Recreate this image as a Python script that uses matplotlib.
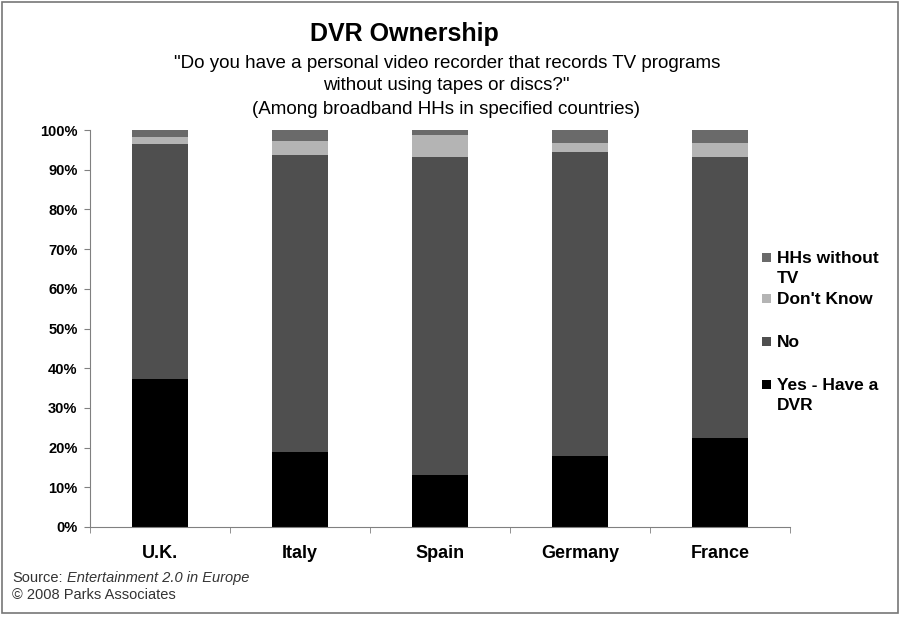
import matplotlib
matplotlib.use("Agg")
import matplotlib.pyplot as plt
import matplotlib.ticker as mticker
from matplotlib.patches import Rectangle
import numpy as np

plt.rcParams['font.family'] = ['Liberation Sans', 'DejaVu Sans']

countries = ["U.K.", "Italy", "Spain", "Germany", "France"]
yes_dvr = [37.3, 18.8, 13.1, 17.9, 22.4]
no_dvr = [59.2, 74.9, 80.2, 76.6, 70.8]
dont_know = [1.7, 3.5, 5.5, 2.2, 3.5]
no_tv = [1.8, 2.8, 1.2, 3.3, 3.3]

series = [
    ("Yes - Have a\nDVR", yes_dvr, "#000000"),
    ("No", no_dvr, "#4f4f4f"),
    ("Don't Know", dont_know, "#b4b4b4"),
    ("HHs without\nTV", no_tv, "#6a6a6a"),
]

W, H = 903, 617
fig = plt.figure(figsize=(W / 100, H / 100), dpi=100)
ax = fig.add_axes([90 / W, 1 - 527 / H, 700 / W, 397 / H])

x = np.arange(len(countries))
bottom = np.zeros(len(countries))
for label, vals, color in series:
    ax.bar(x, vals, width=0.4, bottom=bottom, color=color, linewidth=0)
    bottom += np.array(vals)

ax.set_xlim(-0.5, len(countries) - 0.5)
ax.set_ylim(0, 100)
ax.yaxis.set_major_locator(mticker.MultipleLocator(10))
ax.yaxis.set_major_formatter(mticker.FuncFormatter(lambda v, p: f"{v:.0f}%"))
ax.set_xticks(x)
ax.set_xticklabels(countries, fontsize=13, fontweight="bold")
ax.set_xticks(np.arange(len(countries) + 1) - 0.5, minor=True)
ax.tick_params(axis="x", which="major", length=0, pad=13)
ax.tick_params(axis="x", which="minor", length=4, color="#808080")
ax.tick_params(axis="y", length=4, color="#808080", labelsize=10.5, pad=5)
for t in ax.get_yticklabels():
    t.set_fontweight("bold")
for s in ["top", "right"]:
    ax.spines[s].set_visible(False)
for s in ["left", "bottom"]:
    ax.spines[s].set_color("#808080")

# titles
fig.text(404 / W, 1 - 34 / H, "DVR Ownership", ha="center", va="center",
         fontsize=18, fontweight="bold")
fig.text(447 / W, 1 - 63 / H, "\"Do you have a personal video recorder that records TV programs",
         ha="center", va="center", fontsize=13.5)
fig.text(446 / W, 1 - 86 / H, "without using tapes or discs?\"",
         ha="center", va="center", fontsize=13.5)
fig.text(446 / W, 1 - 109 / H, "(Among broadband HHs in specified countries)",
         ha="center", va="center", fontsize=13.5)

# legend, top to bottom
legend_y = [258, 299, 342, 385]
for (label, vals, color), ly in zip(series[::-1], legend_y):
    fig.patches.append(Rectangle((762 / W, 1 - (ly + 4) / H), 9 / W, 9 / H,
                                 transform=fig.transFigure, facecolor=color,
                                 edgecolor="none"))
    fig.text(777 / W, 1 - (ly - 7) / H, label, ha="left", va="top",
             fontsize=12.5, fontweight="bold", linespacing=1.4)

# source
fig.text(12 / W, 1 - 578 / H, "Source:", ha="left", va="center", fontsize=10.5, color="#333333")
fig.text(67 / W, 1 - 578 / H, "Entertainment 2.0 in Europe", ha="left", va="center",
         fontsize=10.5, style="italic", color="#333333")
fig.text(12 / W, 1 - 595 / H, "\u00a9 2008 Parks Associates", ha="left", va="center",
         fontsize=10.5, color="#333333")

# frame
fig.patches.append(Rectangle((2 / W, 4 / H), 896 / W, 611 / H, transform=fig.transFigure,
                             facecolor="none", edgecolor="#777777", linewidth=1.2))

fig.savefig("out.png", dpi=100)
